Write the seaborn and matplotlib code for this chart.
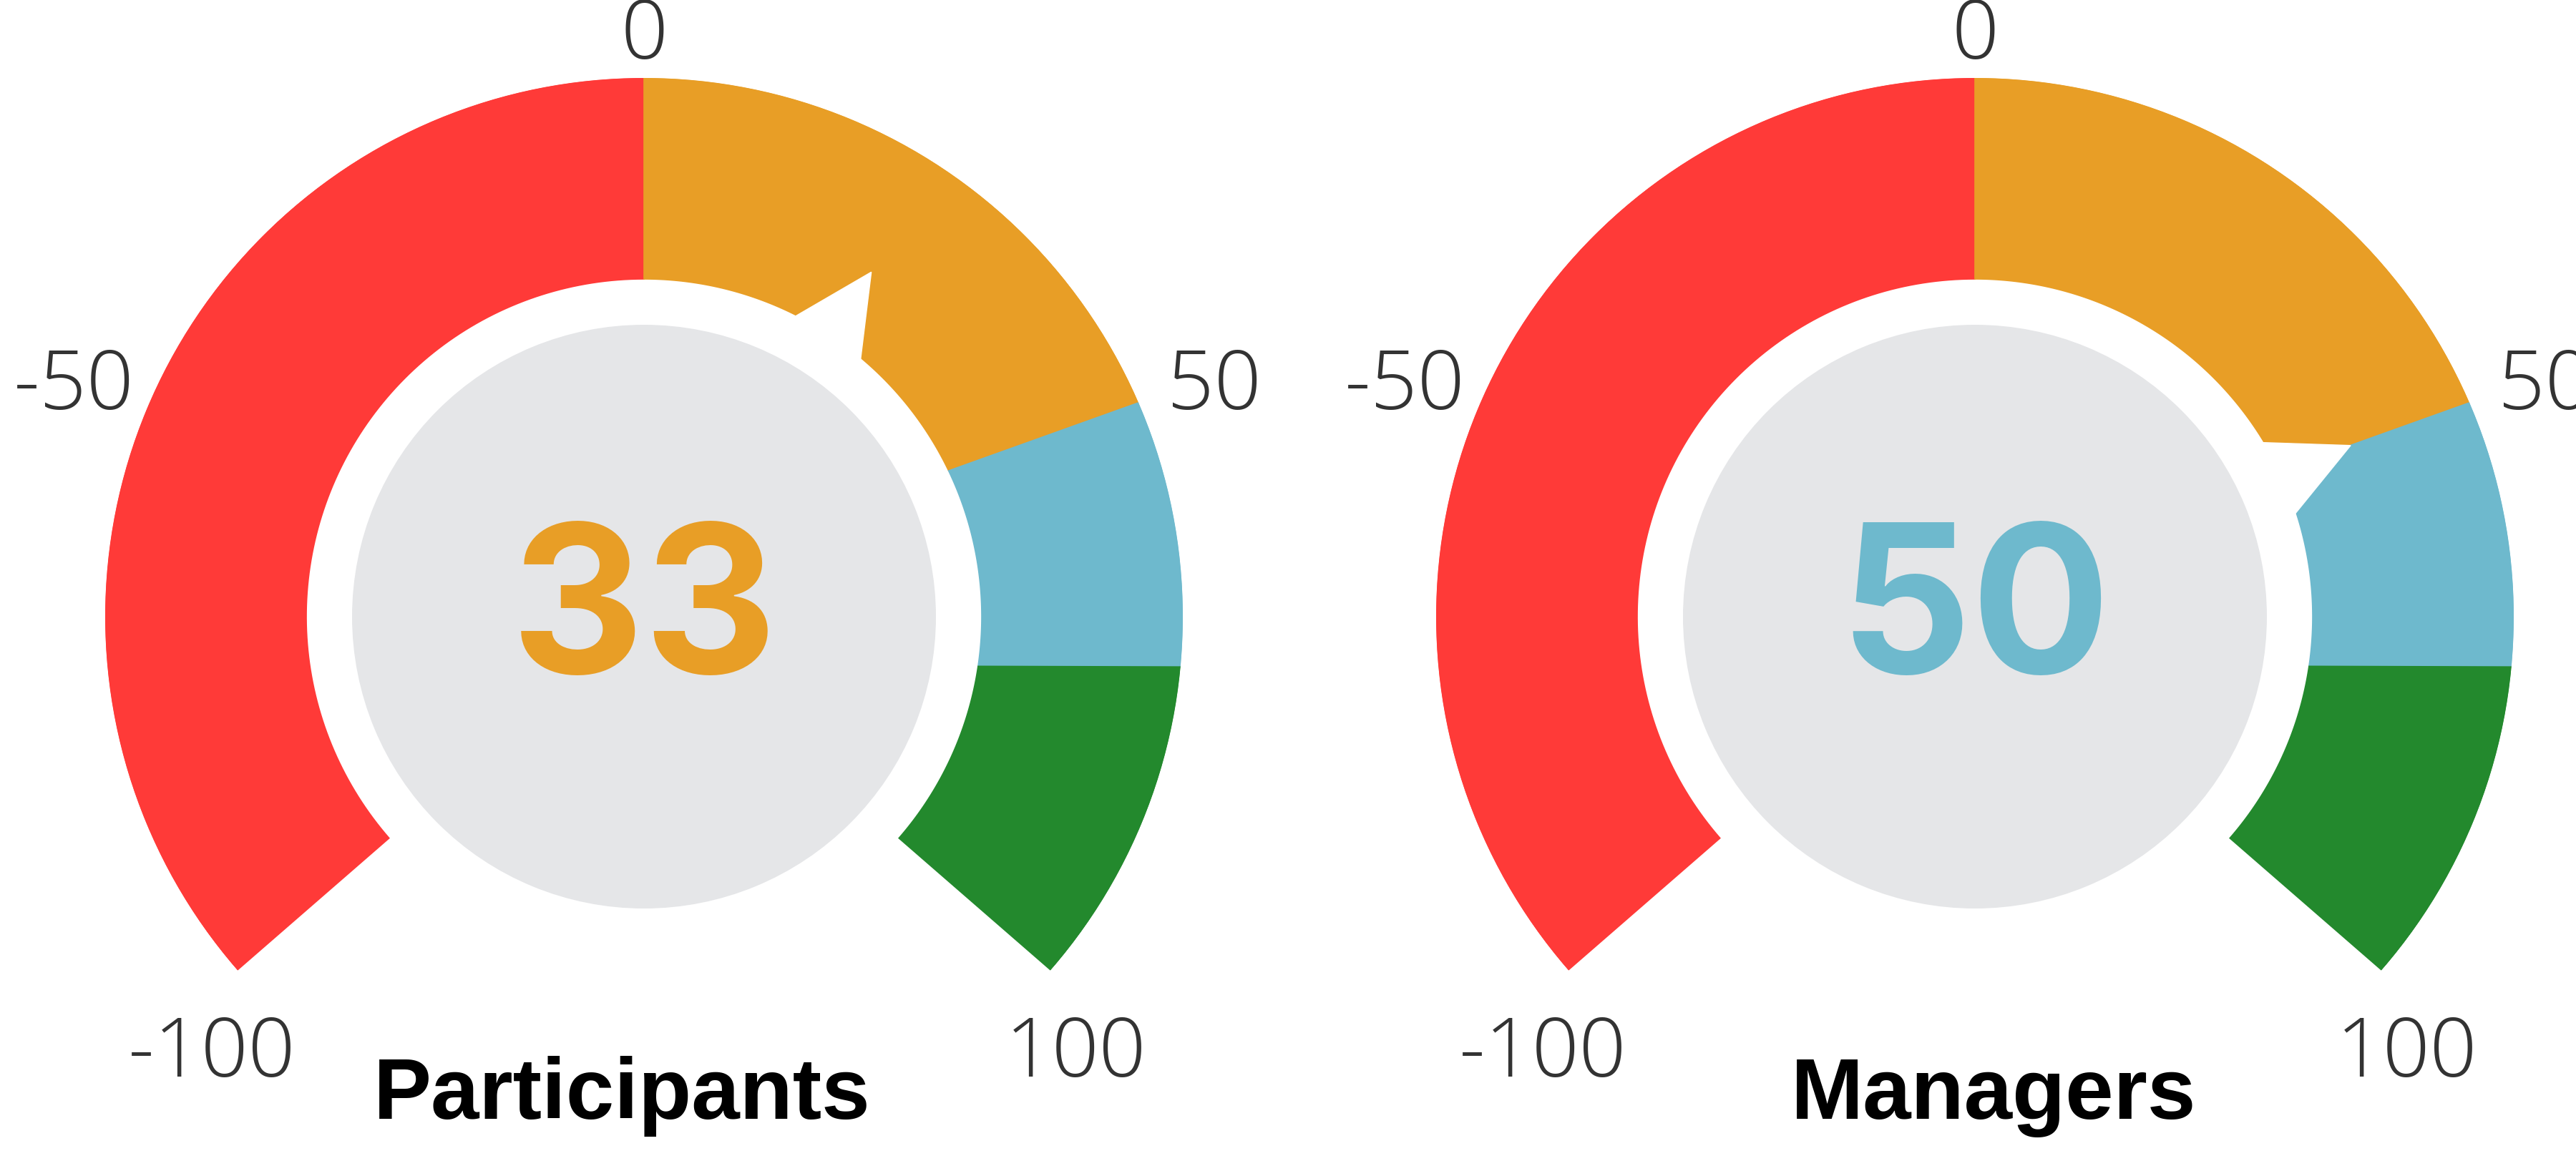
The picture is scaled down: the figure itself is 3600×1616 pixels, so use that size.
import numpy as np
import matplotlib.pyplot as plt
import seaborn as sns

# Data
groups = ["Participants", "Managers"]
scores = [33, 50]
needle_values = [25.5, 50]          # where the white pointer sits on the -100..100 scale
band_edges = [-100, 0, 50, 75, 100]
band_colors = ["#FF3A38", "#E89E26", "#6EB9CD", "#23892D"]
tick_values = [-100, -50, 0, 50, 100]
tick_labels = ["-100", "-50", "0", "50", "100"]

# Layout (pixels of the 3600x1616 output)
W, H = 3600, 1616
DPI = 200
DEG_PER_UNIT = 1.31
R_OUT, R_IN, R_DISC, R_TIP = 753, 472, 408, 577
centers = [(900, 862), (2760, 862)]
title_x = [869, 2786]
title_baseline = 1564
# the band borders are not quite radial in the original (degrees)
edge_outer_shift = [0, 0, 1.1, -2.9, 0]
edge_inner_shift = [0, 0, -1.1, 0.2, 0]

sns.set_theme(style="white")
plt.rcParams['font.family'] = ['Liberation Sans', 'DejaVu Sans']


def to_theta(v, stretch=1.0):
    return np.deg2rad(np.asarray(v, dtype=float) * DEG_PER_UNIT * stretch)


def draw_gauge(fig, cx, cy, score, needle):
    rect = [(cx - R_OUT) / W, (H - cy - R_OUT) / H, 2 * R_OUT / W, 2 * R_OUT / H]
    ax = fig.add_axes(rect, projection='polar')
    ax.set_theta_zero_location('N')
    ax.set_theta_direction(-1)
    ax.set_ylim(0, R_OUT)
    ax.set_axis_off()

    # grey disc in the middle
    ax.bar(0, R_DISC, width=2 * np.pi, bottom=0, color="#E5E6E8",
           edgecolor="none", linewidth=0, zorder=1)

    # coloured bands
    for i, col in enumerate(band_colors):
        o0 = to_theta(band_edges[i]) + np.deg2rad(edge_outer_shift[i])
        o1 = to_theta(band_edges[i + 1]) + np.deg2rad(edge_outer_shift[i + 1])
        i0 = to_theta(band_edges[i]) + np.deg2rad(edge_inner_shift[i])
        i1 = to_theta(band_edges[i + 1]) + np.deg2rad(edge_inner_shift[i + 1])
        t_out = np.linspace(o0, o1, 120)
        t_in = np.linspace(i1, i0, 120)
        ax.fill(np.r_[t_out, t_in], np.r_[np.full(120, R_OUT), np.full(120, R_IN)],
                color=col, edgecolor=col, linewidth=0.6, zorder=2)

    # white pointer cut into the band
    tn = to_theta(needle)
    hw = np.deg2rad(7.5)
    ax.fill([tn - hw, tn, tn + hw], [R_IN - 12, R_TIP, R_IN - 12],
            color="white", edgecolor="white", linewidth=0.5, zorder=3)

    # scale labels (digit ink centred on the anchor point)
    for v, lbl in zip(tick_values, tick_labels):
        th = to_theta(v, stretch=1.03)
        r = 821 + 45 * abs(np.sin(th))
        ax.annotate(lbl, xy=(th, r), xytext=(0, -41), textcoords='offset pixels',
                    ha='center', va='baseline', fontsize=41.5,
                    color="#333333", fontweight='light',
                    family=['Open Sans', 'DejaVu Sans'], annotation_clip=False,
                    zorder=4)

    # big value in the middle, coloured like its band
    idx = int(np.clip(np.searchsorted(band_edges, score, side='right') - 1,
                      0, len(band_colors) - 1))
    ax.annotate(str(score), xy=(0, 0), xytext=(0, -79),
                textcoords='offset pixels', ha='center', va='baseline',
                fontsize=104, fontweight='bold', color=band_colors[idx],
                family=['Inter', 'DejaVu Sans'], zorder=5)
    return ax


fig = plt.figure(figsize=(W / DPI, H / DPI), dpi=DPI)
fig.patch.set_facecolor("white")

for (cx, cy), s, nv, name, tx in zip(centers, scores, needle_values, groups, title_x):
    draw_gauge(fig, cx, cy, s, nv)
    fig.text(tx / W, 1 - title_baseline / H, name, ha='center', va='baseline',
             fontsize=43.7, fontweight='bold', color="black",
             family=['Liberation Sans', 'DejaVu Sans'])

fig.savefig("out.png", dpi=DPI, facecolor="white")
plt.close(fig)
